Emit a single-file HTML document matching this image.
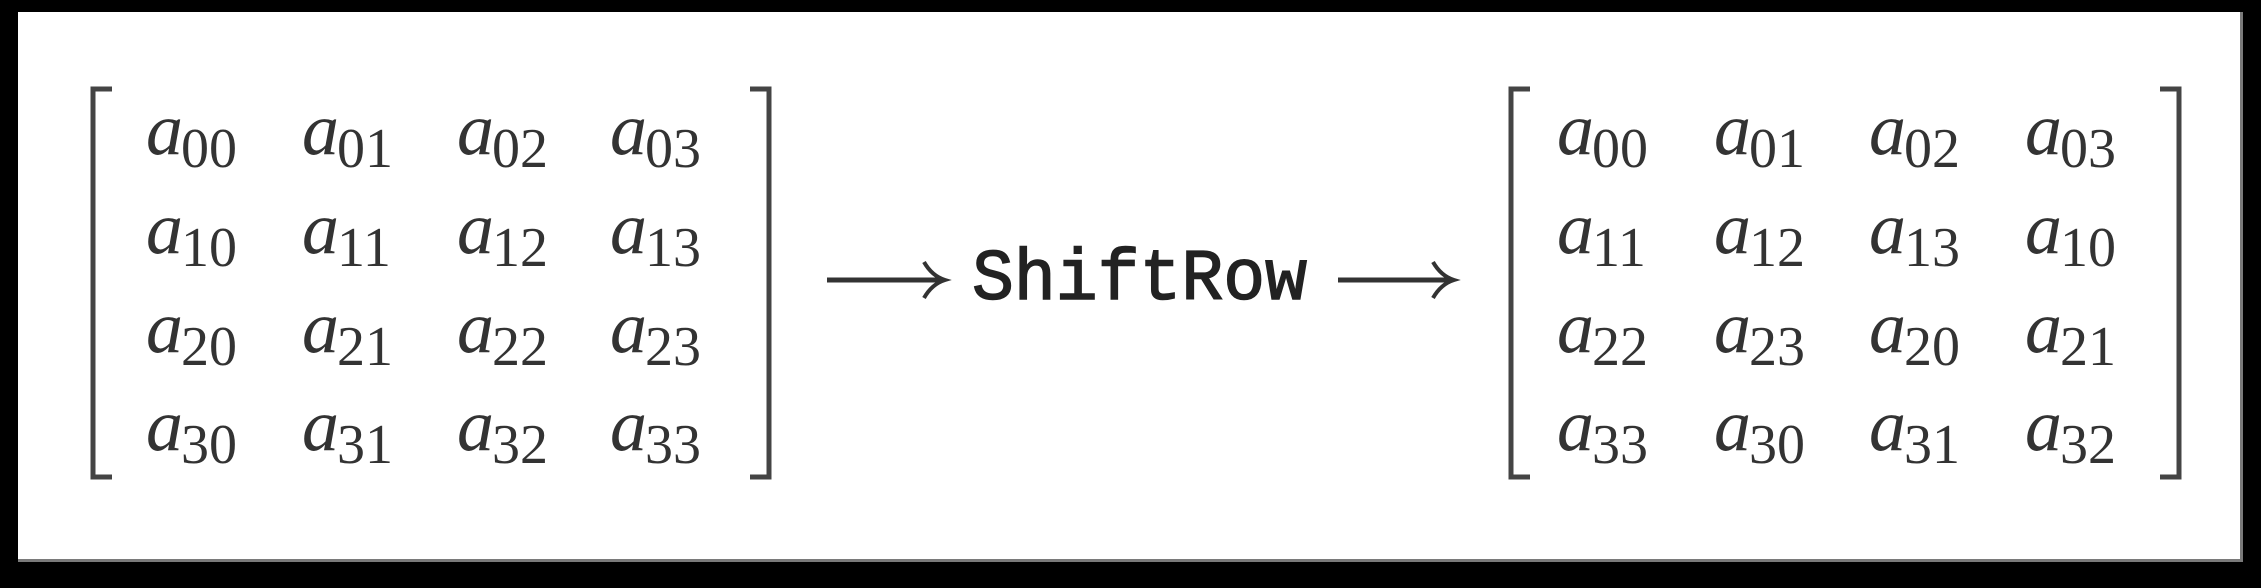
<!DOCTYPE html>
<html><head><style>
html,body{margin:0;padding:0;background:#000;}
svg{display:block;}
</style></head><body>
<svg width="2261" height="588" viewBox="0 0 2261 588" xmlns="http://www.w3.org/2000/svg">
<rect x="0" y="0" width="2261" height="588" fill="#000"/>
<rect x="18" y="12" width="2225" height="550" fill="#7a7a7a"/>
<rect x="18" y="12" width="2222" height="547" fill="#fff"/>
<g fill="none" stroke="#444" stroke-width="5">
<path d="M112 89 H93 V477 H112"/>
<path d="M750 89 H769 V477 H750"/>
<path d="M1530 89 H1511 V477 H1530"/>
<path d="M2160 89 H2179 V477 H2160"/>
</g>
<g stroke="#333" stroke-width="5" fill="none">
<line x1="827" y1="280" x2="942" y2="280"/>
<path d="M924 262 Q932 276 945 280 Q932 284 924 298" stroke-width="4"/>
<line x1="1338" y1="280" x2="1451" y2="280"/>
<path d="M1433 262 Q1441 276 1454 280 Q1441 284 1433 298" stroke-width="4"/>
</g>
<text x="972" y="299" font-family="Liberation Mono, monospace" font-size="72" fill="#222" stroke="#222" stroke-width="1.5" textLength="335" lengthAdjust="spacingAndGlyphs">ShiftRow</text>
<g font-family="Liberation Serif, serif" fill="#333">
<g font-size="74" font-style="italic">
<text x="146" y="154">a</text><text x="302" y="154">a</text><text x="457" y="154">a</text><text x="610" y="154">a</text>
<text x="146" y="253">a</text><text x="302" y="253">a</text><text x="457" y="253">a</text><text x="610" y="253">a</text>
<text x="146" y="352">a</text><text x="302" y="352">a</text><text x="457" y="352">a</text><text x="610" y="352">a</text>
<text x="146" y="450">a</text><text x="302" y="450">a</text><text x="457" y="450">a</text><text x="610" y="450">a</text>
<text x="1557" y="154">a</text><text x="1714" y="154">a</text><text x="1869" y="154">a</text><text x="2025" y="154">a</text>
<text x="1557" y="253">a</text><text x="1714" y="253">a</text><text x="1869" y="253">a</text><text x="2025" y="253">a</text>
<text x="1557" y="352">a</text><text x="1714" y="352">a</text><text x="1869" y="352">a</text><text x="2025" y="352">a</text>
<text x="1557" y="450">a</text><text x="1714" y="450">a</text><text x="1869" y="450">a</text><text x="2025" y="450">a</text>
</g>
<g font-size="56">
<text x="181" y="167">00</text><text x="337" y="167">01</text><text x="492" y="167">02</text><text x="645" y="167">03</text>
<text x="181" y="266">10</text><text x="337" y="266">11</text><text x="492" y="266">12</text><text x="645" y="266">13</text>
<text x="181" y="365">20</text><text x="337" y="365">21</text><text x="492" y="365">22</text><text x="645" y="365">23</text>
<text x="181" y="463">30</text><text x="337" y="463">31</text><text x="492" y="463">32</text><text x="645" y="463">33</text>
<text x="1592" y="167">00</text><text x="1749" y="167">01</text><text x="1904" y="167">02</text><text x="2060" y="167">03</text>
<text x="1592" y="266">11</text><text x="1749" y="266">12</text><text x="1904" y="266">13</text><text x="2060" y="266">10</text>
<text x="1592" y="365">22</text><text x="1749" y="365">23</text><text x="1904" y="365">20</text><text x="2060" y="365">21</text>
<text x="1592" y="463">33</text><text x="1749" y="463">30</text><text x="1904" y="463">31</text><text x="2060" y="463">32</text>
</g>
</g>
</svg>
</body></html>
